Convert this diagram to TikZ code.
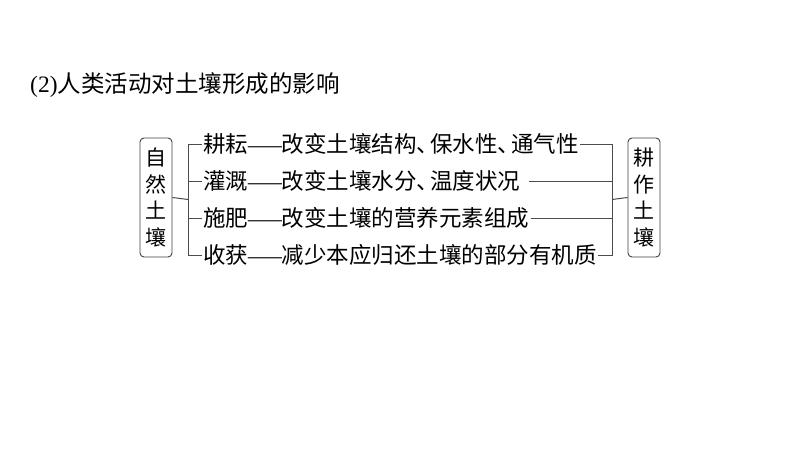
\documentclass[tikz,border=0pt]{standalone}
\usepackage{fontspec}
\setmainfont{Liberation Serif}
\newfontfamily\cjk{Noto Sans CJK SC}
\newcommand{\dunhao}{、\kern-.4em}
\newcommand{\pozhe}{\scalebox{1.5}[1]{\rmfamily —}}
\tikzset{
  rowtext/.style={anchor=west,inner sep=1pt,font=\cjk\fontsize{22.5}{26}\selectfont},
  sidebox/.style={draw=black!75,rounded corners=4pt,line width=0.9pt,minimum width=32pt,
    minimum height=119pt,inner sep=0pt,align=center,font=\cjk\fontsize{21}{26.5}\selectfont},
  bracket/.style={draw=black!70,line width=1pt}
}
\begin{document}
\begin{tikzpicture}[x=1pt,y=-1pt]
  \useasboundingbox[fill=white] (0,0) rectangle (800,450);
  % title
  \node[anchor=west,inner sep=0pt,font=\fontsize{23.5}{28}\selectfont] (title) at (30,85)
    {(2)\cjk 人类活动对土壤形成的影响};
  % side boxes
  \node[sidebox] (nat) at (156,197.5) {自\\然\\土\\壤};
  \node[sidebox] (cul) at (644,197.5) {耕\\作\\土\\壤};
  % rows
  \node[rowtext] (r1) at (202,144) {耕耘\pozhe 改变土壤结构\dunhao 保水性\dunhao 通气性};
  \node[rowtext] (r2) at (202,181) {灌溉\pozhe 改变土壤水分\dunhao 温度状况};
  \node[rowtext] (r3) at (202,218) {施肥\pozhe 改变土壤的营养元素组成};
  \node[rowtext] (r4) at (202,255) {收获\pozhe 减少本应归还土壤的部分有机质};
  % brackets
  \coordinate (lb) at (188,199.5);
  \coordinate (rb) at (612,199.5);
  \draw[bracket] (nat.east) -- (lb);
  \draw[bracket] (cul.west) -- (rb);
  \foreach \i in {1,...,4}
    \draw[bracket] (r\i.west) -| (lb);
  \draw[bracket] (r1.east) -| (rb);
  \draw[bracket] ([xshift=7pt]r2.east) -| (rb);
  \draw[bracket] (r3.east) -| (rb);
  \draw[bracket] (r4.east) -| (rb);
\end{tikzpicture}
\end{document}
